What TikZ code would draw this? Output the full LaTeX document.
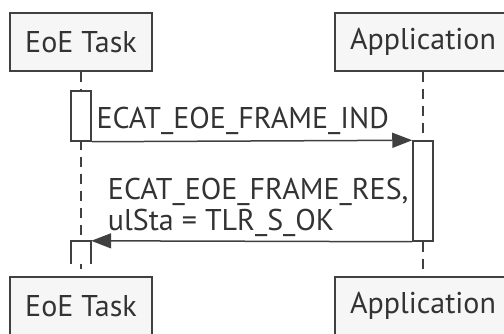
\documentclass[tikz,border=0pt]{standalone}
\usepackage{fontspec}
\setmainfont{PT Sans}
\usetikzlibrary{positioning,arrows.meta}
\definecolor{linegray}{HTML}{404040}
\definecolor{boxgray}{HTML}{F6F6F6}
\def\lw{1.5pt}
\tikzstyle{actor}=[draw=linegray,fill=boxgray,line width=\lw,minimum height=58pt,inner sep=0pt]
\tikzstyle{activation}=[draw=linegray,fill=white,line width=\lw,minimum width=20pt,inner sep=0pt]
\tikzstyle{lifeline}=[draw=linegray,line width=\lw,dash pattern=on 10pt off 7pt]
\tikzstyle{message}=[draw=linegray,line width=\lw,-{Triangle[length=20pt,width=15pt]}]
\newcommand{\newActor}[4]{\node[actor,minimum width=#3](#1) at #4 {#2};}
\newcommand{\newActivation}[3]{\node[activation,minimum height=#2](#1) at #3 {};}

\begin{document}
\begin{tikzpicture}[x=1pt,y=1pt,font=\fontsize{30}{31}\selectfont,text=black!80]
  \clip (0,0) rectangle (504,334);
  \useasboundingbox (0,0) rectangle (504,334);
  \newActor{taskTop}{EoE Task}{142pt}{(81,292)}
  \newActor{appTop}{Application}{176pt}{(423,292)}
  \newActor{taskBot}{EoE Task}{142pt}{(81,28)}
  \newActor{appBot}{Application}{176pt}{(423,28)}
  \draw[lifeline] (taskTop) -- (taskBot);
  \draw[lifeline] (appTop) -- (appBot);
  \newActivation{taskAct}{50pt}{(81,218)}
  \newActivation{appAct}{100pt}{(423,143)}
  % reply activation, open at the bottom
  \node[inner sep=0pt,minimum width=20pt,minimum height=23pt,fill=white] (taskReply) at (81,81.5) {};
  \draw[linegray,line width=\lw] (taskReply.south west) -- (taskReply.north west)
    -- (taskReply.north east) -- (taskReply.south east);
  \draw[message] (taskAct.south east) -- node[pos=0,anchor=base west,inner sep=0pt,xshift=4pt,yshift=13pt] {ECAT\_EOE\_FRAME\_IND} (appAct.north west);
  \draw[message] (appAct.south west) -- node[pos=1,anchor=south west,align=left,inner sep=0pt,xshift=16pt,yshift=3pt]
    {ECAT\_EOE\_FRAME\_RES,\\ulSta = TLR\_S\_OK} (taskReply.north east);
\end{tikzpicture}
\end{document}
